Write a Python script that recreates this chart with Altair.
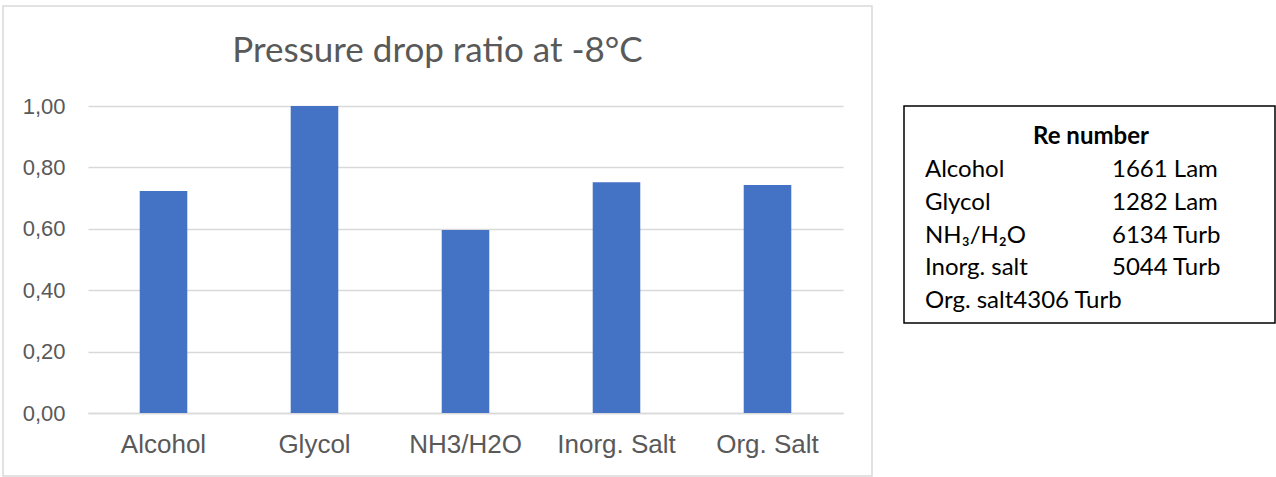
import altair as alt
import pandas as pd

# Pressure drop ratio per secondary fluid
fluids = ["Alcohol", "Glycol", "NH3/H2O", "Inorg. Salt", "Org. Salt"]
ratio = [0.723, 1.00, 0.596, 0.752, 0.743]
y_ticks = [0.0, 0.2, 0.4, 0.6, 0.8, 1.0]

# Reynolds numbers shown in the side table
re_names = ["Alcohol", "Glycol", "NH₃/H₂O", "Inorg. salt", "Org. salt"]
re_values = [1661, 1282, 6134, 5044, 4306]
re_regime = ["Lam", "Lam", "Turb", "Turb", "Turb"]
# rows whose name runs straight into the value column
re_spill = [False, False, False, False, True]

bars_df = pd.DataFrame({"fluid": fluids, "ratio": ratio})

rows = []
for i, (name, val, reg, spill) in enumerate(zip(re_names, re_values, re_regime, re_spill)):
    cell = f"{val} {reg}"
    if spill:
        rows.append({"row": i, "name": name + cell, "value": ""})
    else:
        rows.append({"row": i, "name": name, "value": cell})
table_df = pd.DataFrame(rows)

GREY = "#595959"
GRID = "#d9d9d9"
one = alt.Data(values=[{"k": 0}])

frame = alt.Chart(one).mark_rect(fill=None, stroke=GRID, strokeWidth=1.5).encode(
    x=alt.value(-85), x2=alt.value(784), y=alt.value(-100), y2=alt.value(370)
)

bars = alt.Chart(bars_df).mark_bar(color="#4472C4").encode(
    x=alt.X(
        "fluid:N",
        sort=fluids,
        scale=alt.Scale(paddingInner=0.685, paddingOuter=0.3425),
        axis=alt.Axis(
            title=None, labelAngle=0, ticks=False, domainColor=GRID, domainWidth=1.5,
            labelFont="Liberation Sans", labelFontSize=26, labelColor=GREY,
            labelPadding=18, grid=False,
        ),
    ),
    y=alt.Y(
        "ratio:Q",
        scale=alt.Scale(domain=[0, 1], nice=False),
        axis=alt.Axis(
            title=None, values=y_ticks, domain=False, ticks=False,
            labelExpr="replace(format(datum.value, '.2f'), '.', ',')",
            labelFont="Liberation Sans", labelFontSize=22, labelColor=GREY,
            labelPadding=23, gridColor=GRID, gridWidth=1.5,
        ),
    ),
)

box = alt.Chart(one).mark_rect(fill="white", stroke="black", strokeWidth=1.5).encode(
    x=alt.value(816), x2=alt.value(1187), y=alt.value(0), y2=alt.value(217)
)

header = alt.Chart(one).mark_text(
    text="Re number", font="Lato", fontSize=24, fontWeight="bold",
    align="center", baseline="alphabetic", color="black",
).encode(x=alt.value(1003), y=alt.value(38))

row_scale = alt.Scale(type="point", domain=list(range(len(re_names))), range=[71, 202], padding=0)

names = alt.Chart(table_df).mark_text(
    font="Lato", fontSize=24, align="left", baseline="alphabetic", color="black"
).encode(
    x=alt.value(837),
    y=alt.Y("row:O", scale=row_scale, axis=None),
    text="name:N",
)

values = alt.Chart(table_df).mark_text(
    font="Lato", fontSize=24, align="left", baseline="alphabetic", color="black"
).encode(
    x=alt.value(1024),
    y=alt.Y("row:O", scale=row_scale, axis=None),
    text="value:N",
)

# the text box cuts off the last line's descenders
mask = alt.Chart(one).mark_rect(fill="white").encode(
    x=alt.value(818), x2=alt.value(1185), y=alt.value(209), y2=alt.value(216)
)

chart = (
    alt.layer(frame, bars, box, header, names, values, mask)
    .resolve_scale(y="independent")
    .properties(
        width=755,
        height=307,
        autosize=alt.AutoSizeParams(type="none"),
        padding={"left": 88, "top": 106, "right": 433, "bottom": 64},
        background="white",
        title=alt.TitleParams(
            "Pressure drop ratio at -8°C",
            font="Lato", fontSize=35, fontWeight="normal", color=GREY,
            anchor="middle", dx=-28, offset=-92, baseline="alphabetic",
        ),
    )
    .configure_view(stroke=None)
)

chart.save("out.html", embed_options={"renderer": "svg", "actions": False})
